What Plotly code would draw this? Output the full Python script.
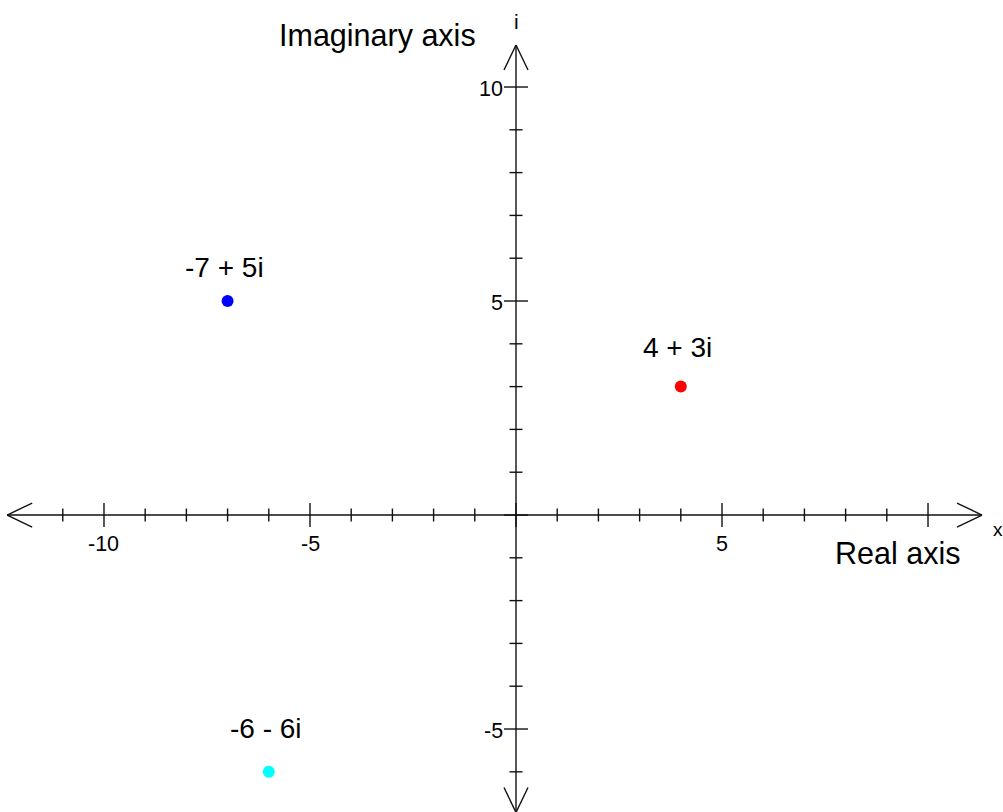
import plotly.graph_objects as go

# Complex numbers plotted on the Argand plane
labels = ["-7 + 5i", "4 + 3i", "-6 - 6i"]
real_parts = [-7, 4, -6]
imag_parts = [5, 3, -6]
colors = ["#0000ff", "#ff0000", "#00ffff"]

# Axis tick layout
x_minor_ticks = list(range(-11, 11))
y_minor_ticks = list(range(-6, 11))
x_major_ticks = [-10, -5, 0, 5, 10]
y_major_ticks = [-5, 0, 5, 10]
x_tick_labels = {-10: "-10", -5: "-5", 5: "5"}
y_tick_labels = {10: "10", 5: "5", -5: "-5"}

# Visible window and arrow extents
x_range = [-12.524, 11.820]
y_range = [-6.939, 12.033]
x_arrow_ends = [-12.35, 11.31]
y_arrow_ends = [-6.95, 10.98]

W, H = 1003, 812
px_x = W / (x_range[1] - x_range[0])   # pixels per real unit
px_y = H / (y_range[1] - y_range[0])   # pixels per imaginary unit

FONT = "Liberation Sans, Arial, sans-serif"
LINE = dict(color="#111111", width=1.4)

shapes = []


def seg(x0, y0, x1, y1):
    shapes.append(dict(type="line", xref="x", yref="y",
                       x0=x0, y0=y0, x1=x1, y1=y1, line=LINE))


# Axis lines
seg(x_arrow_ends[0], 0, x_arrow_ends[1], 0)
seg(0, y_arrow_ends[0], 0, y_arrow_ends[1])

# Open arrowheads (25 px long, 12 px wide each side)
al, aw = 25, 12
for xe, d in ((x_arrow_ends[0], 1), (x_arrow_ends[1], -1)):
    seg(xe, 0, xe + d * al / px_x, aw / px_y)
    seg(xe, 0, xe + d * al / px_x, -aw / px_y)
for ye, d in ((y_arrow_ends[0], 1), (y_arrow_ends[1], -1)):
    seg(0, ye, aw / px_x, ye + d * al / px_y)
    seg(0, ye, -aw / px_x, ye + d * al / px_y)

# Ticks crossing the axes
minor_half, major_half = 6.5, 12
for t in x_minor_ticks:
    h = (major_half if t in x_major_ticks else minor_half) / px_y
    seg(t, -h, t, h)
for t in y_minor_ticks:
    h = (major_half if t in y_major_ticks else minor_half) / px_x
    seg(-h, t, h, t)

TICK_FONT = dict(family=FONT, size=21.5, color="black")
TITLE_FONT = dict(family=FONT, size=30.5, color="black")
LABEL_FONT = dict(family=FONT, size=28, color="black")

annotations = []
for t, s in x_tick_labels.items():
    annotations.append(dict(x=t, y=0, xref="x", yref="y", text=s, showarrow=False,
                            yshift=-29, font=TICK_FONT))
for t, s in y_tick_labels.items():
    annotations.append(dict(x=0, y=t, xref="x", yref="y", text=s, showarrow=False,
                            xanchor="right", xshift=-11, yshift=-2, font=TICK_FONT))

# Axis titles (offset in pixels from the origin) and end letters
annotations += [
    dict(x=0, y=0, xref="x", yref="y", text="Imaginary axis", showarrow=False,
         xshift=-139, yshift=480, font=TITLE_FONT),
    dict(x=0, y=0, xref="x", yref="y", text="Real axis", showarrow=False,
         xshift=381, yshift=-38, font=TITLE_FONT),
    dict(x=x_arrow_ends[1], y=0, xref="x", yref="y", text="x", showarrow=False,
         xanchor="left", xshift=9, yshift=-14, font=dict(family=FONT, size=19, color="black")),
    dict(x=0, y=y_arrow_ends[1], xref="x", yref="y", text="i", showarrow=False,
         yshift=24, font=dict(family=FONT, size=21, color="black")),
]

# Point labels above each dot
label_shift = [34, 39, 43]
for lab, xr, yi, dy in zip(labels, real_parts, imag_parts, label_shift):
    annotations.append(dict(x=xr, y=yi, xref="x", yref="y", text=lab, showarrow=False,
                            xshift=-3, yshift=dy, font=LABEL_FONT))

fig = go.Figure()
fig.add_trace(go.Scatter(
    x=real_parts, y=imag_parts, mode="markers",
    marker=dict(size=12, color=colors, line=dict(width=0)),
    hoverinfo="text", text=labels, showlegend=False,
))

fig.update_layout(
    width=W, height=H,
    margin=dict(l=0, r=0, t=0, b=0),
    paper_bgcolor="white", plot_bgcolor="white",
    xaxis=dict(range=x_range, visible=False, fixedrange=True),
    yaxis=dict(range=y_range, visible=False, fixedrange=True),
    shapes=shapes, annotations=annotations,
    showlegend=False,
)

fig.write_html("out.html")
